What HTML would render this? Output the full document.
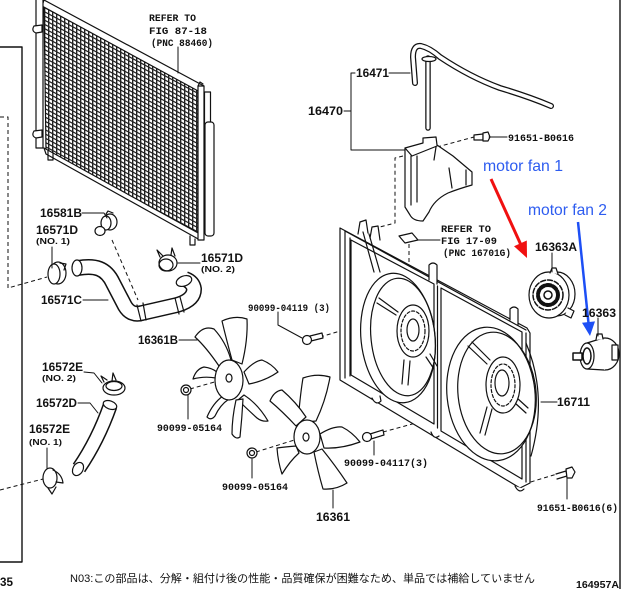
<!DOCTYPE html>
<html><head><meta charset="utf-8">
<style>
html,body{margin:0;padding:0;background:#fff;}
svg{display:block;}
.l{font-family:"Liberation Sans",sans-serif;font-weight:bold;font-size:12px;fill:#111;}
.m{font-family:"Liberation Mono",monospace;font-weight:bold;font-size:10px;fill:#111;}
.s{font-family:"Liberation Sans",sans-serif;font-weight:bold;font-size:8.5px;fill:#111;}
.b{font-family:"Liberation Sans",sans-serif;font-size:16px;fill:#2d5cf0;}
.j{font-family:"Liberation Sans","Noto Sans CJK JP",sans-serif;font-size:11px;fill:#111;}
</style></head><body>
<svg width="622" height="589" viewBox="0 0 622 589" xmlns="http://www.w3.org/2000/svg">
<defs>
<pattern id="g" width="4" height="4.2" patternUnits="userSpaceOnUse" patternTransform="skewY(28)">
<rect width="4" height="4.2" fill="#fff"/>
<path d="M0.7 0V4.2M0 0.7H4" stroke="#222" stroke-width="1.4"/>
</pattern>
</defs>

<g fill="none" stroke="#111" stroke-width="1.2" stroke-linejoin="round" stroke-linecap="round">
<!-- borders -->
<path d="M0,47 H22 V562 H0" stroke-width="1.4"/>
<path d="M620,0 V589" stroke-width="1.4"/>

<!-- ===== CONDENSER ===== -->
<path d="M44,6 L200,90 L200,236 L46,150 Z" fill="url(#g)"/>
<path d="M44,0 L204,86 L200,92 L42,6 Z" fill="#fff"/>
<path d="M44,148 L200,234 L200,240 L46,154 Z" fill="#fff"/>
<rect x="36" y="-2" width="7" height="150" fill="#fff"/>
<rect x="198" y="86" width="6" height="154" fill="#fff"/>
<rect x="204.5" y="92" width="6" height="32" fill="#fff"/>
<rect x="205" y="122" width="9" height="114" rx="3" fill="#fff"/>
<path d="M34,26 Q31,31 36,33 L42,32 L42,25 Z" fill="#fff"/>
<path d="M34,131 Q31,136 36,138 L42,137 L42,130 Z" fill="#fff"/>
<path d="M48,151 V160 H53 V153"/>
<path d="M190,236 V245 H195 V239"/>
<path d="M198,86 L200,82 L203,84"/>
<path d="M178,47 V73" stroke-width="1"/>

<!-- dashed -->
<g stroke-dasharray="4 3" stroke-width="1" stroke-linecap="butt">
<path d="M0,117 H8 V288 L47,277"/>
<path d="M112,240 L138,300"/>
<path d="M0,490 L43,479"/>
<path d="M190,389 L225,379"/>
<path d="M256,452 L304,437"/>
<path d="M320,337 L411,310"/>
<path d="M383,432 L511,397"/>
<path d="M524,484 L557,474"/>
<path d="M437,147 L474,137"/>
<path d="M403,156 L395,158 V223 L376,228"/>
<path d="M409,244 V264"/>
</g>

<!-- clips -->
<ellipse cx="110" cy="222" rx="7" ry="8" fill="#fff"/>
<ellipse cx="106" cy="223" rx="5" ry="7" fill="#fff"/>
<path d="M106,214 L108,211 L113,213" />
<ellipse cx="100" cy="231" rx="5" ry="4.5" fill="#fff"/>
<ellipse cx="58" cy="273" rx="8" ry="11" fill="#fff"/>
<ellipse cx="54" cy="274" rx="6" ry="10" fill="#fff"/>
<path d="M60,263 L66,264 L64,270"/>
<ellipse cx="168" cy="263" rx="9" ry="8" fill="#fff"/>
<ellipse cx="166" cy="265" rx="7" ry="6"/>
<path d="M160,257 L157,250 L163,256 M171,255 L172,248 L175,256"/>
<ellipse cx="114" cy="388" rx="11" ry="7" fill="#fff"/>
<ellipse cx="114" cy="386" rx="8" ry="4.5"/>
<path d="M104,382 L101,376 L107,380 M112,381 L113,373 L116,380"/>
<ellipse cx="50" cy="478" rx="7" ry="10" fill="#fff"/>
<path d="M53,470 Q62,474 63,483 L56,482 M48,488 L52,494 L56,487"/>

<!-- hose 16571C -->
<path d="M78,268 C95,265 106,268 113,283 L125,306 Q131,316 142,313 L177,305 Q194,300 194,289 Q193,282 185,279" stroke-width="16" stroke-linecap="butt"/>
<path d="M78,268 C95,265 106,268 113,283 L125,306 Q131,316 142,313 L177,305 Q194,300 194,289 Q193,282 185,279" stroke="#fff" stroke-width="13" stroke-linecap="butt"/>
<ellipse cx="77" cy="268" rx="5" ry="8" fill="#fff"/>
<ellipse cx="184" cy="281" rx="8" ry="5" fill="#fff" transform="rotate(-20 184 281)"/>
<path d="M137,305 L141,321 M143,303 L146,320 M175,298 L179,314 M180,297 L184,312"/>

<!-- hose 16572D -->
<path d="M110,406 Q98,440 79,468" stroke-width="15" stroke-linecap="butt"/>
<path d="M110,406 Q98,440 79,468" stroke="#fff" stroke-width="12" stroke-linecap="butt"/>
<ellipse cx="110" cy="405" rx="7" ry="4" fill="#fff" transform="rotate(20 110 405)"/>
<ellipse cx="78" cy="469" rx="5" ry="7" fill="#fff" transform="rotate(30 78 469)"/>

<!-- FAN 16361B -->
<g fill="#fff">
<path d="M219,366 Q206,347 195,337 Q203,325 214,329 Q226,342 231,360 Z"/>
<path d="M232,360 Q226,338 222,321 Q235,315 247,319 Q248,340 242,364 Z"/>
<path d="M244,372 Q254,361 262,360 Q272,364 278,372 Q265,381 249,384 Z"/>
<path d="M244,395 Q258,404 268,421 Q262,422 257,418 Q246,408 238,400 Z"/>
<path d="M236,400 Q232,418 232,434 Q236,440 240,437 Q242,418 243,399 Z"/>
<path d="M223,396 Q213,403 207,417 Q211,421 215,416 Q220,405 229,399 Z"/>
<path d="M216,378 Q204,376 193,379 Q196,369 204,367 Q212,368 217,372 Z"/>
<ellipse cx="229" cy="380" rx="14" ry="20"/>
<ellipse cx="229" cy="378" rx="3" ry="4"/>
</g>
<!-- FAN 16361 -->
<g fill="#fff">
<path d="M298,423 Q300,396 303,378 Q317,373 330,377 Q326,400 316,421 Z"/>
<path d="M296,426 Q282,411 270,401 Q274,391 282,390 Q296,402 306,417 Z"/>
<path d="M320,434 Q333,426 342,427 Q352,432 360,442 Q341,449 324,448 Z"/>
<path d="M314,452 Q318,472 323,489 Q336,490 347,483 Q335,465 322,449 Z"/>
<path d="M296,446 Q284,447 277,448 Q278,462 282,474 Q290,461 299,453 Z"/>
<ellipse cx="307" cy="437" rx="13" ry="17"/>
<ellipse cx="306" cy="437" rx="3" ry="4"/>
</g>
<!-- nuts/bolts -->
<circle cx="186" cy="390" r="5" fill="#fff"/><circle cx="186" cy="390" r="2.5"/>
<circle cx="252" cy="453" r="5" fill="#fff"/><circle cx="252" cy="453" r="2.5"/>
<path d="M310,336 L322,333 L323,338 L311,341" fill="#fff"/>
<circle cx="307" cy="340" r="4.5" fill="#fff"/>
<path d="M370,434 L383,430 L384,435 L371,439" fill="#fff"/>
<circle cx="367" cy="437" r="4.5" fill="#fff"/>
<path d="M556,474 L566,471 L567,476 L557,479" fill="#fff"/>
<path d="M566,469 L572,467 L575,472 L572,478 L567,478 Z" fill="#fff"/>
<path d="M474,135 L483,134 L483,140 L474,140 Z" fill="#fff"/>
<path d="M483,133 L488,132 L490,137 L488,141 L483,141 Z" fill="#fff"/>

<!-- TUBE 16471 -->
<path d="M415,83 L413,57 Q413,45 421,46 Q430,48 440,57 Q470,77 500,88 Q530,97 551,106" stroke-width="6"/>
<path d="M415,83 L413,57 Q413,45 421,46 Q430,48 440,57 Q470,77 500,88 Q530,97 551,106" stroke="#fff" stroke-width="3.5"/>
<path d="M428,58 V128" stroke-width="5.5"/>
<path d="M428,58 V128" stroke="#fff" stroke-width="3"/>
<ellipse cx="429" cy="59" rx="7" ry="2.5" fill="#fff"/>

<!-- RESERVOIR -->
<path d="M405,148 L423,143 L423,138 L436,137 L437,145 L453,156 L472,172 L472,185 Q458,189 448,193 Q434,200 429,212 L423,221 Q413,221 410,215 L405,207 Z" fill="#fff"/>
<path d="M411,156 V205 M417,156 V202 M405,148 L412,156 L437,146 M436,147 L434,160 M466,170 V185 M449,168 L452,188"/>

<!-- SHROUD -->
<path d="M340,228 L527,328 L530,333 V483 L520,488 L340,380 Z" fill="#fff"/>
<path d="M345,231 V378 M350,238 V376"/>
<path d="M345,231 L526,330"/>
<path d="M351,240 L434,284 V424 L351,375 Z"/>
<path d="M441,288 L522,332 V479 L441,431 Z"/>
<path d="M437.5,286 V428 M526,333 V482"/>
<path d="M358,234 L360,222 L366,220 L368,233" fill="#fff"/>
<path d="M370,238 L372,227 L378,226 L380,240" fill="#fff"/>
<path d="M363,232 L374,272 M369,234 L380,272"/>
<path d="M429,280 V265 Q433,261 437,265 V284" fill="#fff"/>
<path d="M510,320 V309 Q514,305 518,309 V325" fill="#fff"/>
<path d="M372,398 Q376,406 381,401 L380,396" fill="#fff"/>
<path d="M431,432 Q434,440 439,436" fill="#fff"/>
<path d="M515,486 Q519,494 524,489" fill="#fff"/>
<path d="M399,236 L412,233 L418,240 L405,243 Z" fill="#fff"/>
<!-- left ring -->
<ellipse cx="398" cy="338" rx="37" ry="65" transform="rotate(-6 398 338)" fill="#fff"/>
<ellipse cx="403" cy="337" rx="32" ry="59" transform="rotate(-6 403 337)"/>
<path d="M379,298 L398,312 M377,303 L396,315 M404,360 L402,384 M410,361 L408,385 M426,357 L434,369 M430,354 L437,366"/>
<ellipse cx="413" cy="331" rx="16" ry="26" fill="#fff"/>
<ellipse cx="413" cy="331" rx="12" ry="20" stroke-dasharray="3 2"/>
<ellipse cx="413" cy="330" rx="6" ry="11" fill="#fff"/>
<!-- right ring -->
<path d="M526,343 Q548,395 531,456"/>
<ellipse cx="491" cy="394" rx="44" ry="67" transform="rotate(-6 491 394)" fill="#fff"/>
<ellipse cx="497" cy="393" rx="39" ry="61" transform="rotate(-6 497 393)"/>
<path d="M472,342 L490,360 M468,346 L487,364 M487,407 L480,433 M492,409 L485,435 M517,398 L528,408 M515,403 L526,413"/>
<ellipse cx="503" cy="385" rx="17" ry="28" fill="#fff"/>
<ellipse cx="503" cy="385" rx="12" ry="21" stroke-dasharray="3 2"/>
<ellipse cx="502" cy="383" rx="7" ry="13" fill="#fff"/>

<!-- MOTOR 1 -->
<ellipse cx="557" cy="294" rx="18" ry="22" fill="#fff"/>
<ellipse cx="549" cy="295" rx="20" ry="23" fill="#fff"/>
<circle cx="548" cy="295" r="15" stroke-width="1.5" stroke-dasharray="5 2"/>
<circle cx="548" cy="295" r="10" stroke-width="4" stroke-dasharray="4 2.5"/>
<circle cx="548" cy="295" r="4" fill="#fff" stroke-width="1.5"/>
<path d="M550,273 L552,268 L556,268 L558,274" fill="#fff"/>
<path d="M568,308 L574,311 L571,318 L565,315" fill="#fff"/>
<!-- MOTOR 2 -->
<ellipse cx="605" cy="354" rx="14" ry="16" fill="#fff"/>
<path d="M587,343 L603,338 L605,370 L587,369 Z" fill="#fff" stroke="none"/>
<path d="M587,343 L603,338 M587,369 L604,370"/>
<ellipse cx="587" cy="356" rx="7" ry="13" fill="#fff"/>
<ellipse cx="587" cy="356" rx="4" ry="8" stroke-width="1.5"/>
<rect x="573" y="353" width="9" height="7" fill="#fff" stroke-width="1.5"/>
<rect x="612" y="345" width="6" height="15" fill="#fff"/>
<path d="M596,340 L597,334 L602,334 L603,339" fill="#fff"/>

<!-- LEADERS -->
<g stroke-width="1">
<path d="M82,213 H104 L107,218"/>
<path d="M52,247 V268"/>
<path d="M178,263 H200"/>
<path d="M83,300 H108"/>
<path d="M179,340 H197"/>
<path d="M84,372 L94,373 L102,383"/>
<path d="M78,403 H90 L98,413"/>
<path d="M47,448 V468"/>
<path d="M188,395 V419"/>
<path d="M252,459 V478"/>
<path d="M278,312 V325 L302,338"/>
<path d="M374,441 V455"/>
<path d="M333,490 V508"/>
<path d="M567,478 V499"/>
<path d="M541,402 H557"/>
<path d="M598,318 V336"/>
<path d="M552,253 V272"/>
<path d="M489,137 H507"/>
<path d="M389,73 H410"/>
<path d="M355,73 H351 V150 H405 M344,111 H351"/>
<path d="M418,240 H440"/>
</g>
</g>

<!-- arrows -->
<line x1="491" y1="179" x2="521" y2="245" stroke="#f01010" stroke-width="3"/>
<polygon points="527,258 514,246.3 526.8,240.5" fill="#f01010"/>
<line x1="578" y1="222" x2="588.5" y2="323" stroke="#1d4ff5" stroke-width="2.5"/>
<polygon points="590,336 582,322.8 595,321.4" fill="#1d4ff5"/>

<!-- TEXT -->
<text class="m" x="149" y="21" textLength="47" lengthAdjust="spacingAndGlyphs">REFER TO</text>
<text class="m" x="149" y="34" textLength="58" lengthAdjust="spacingAndGlyphs">FIG 87-18</text>
<text class="m" x="151" y="46" textLength="62" lengthAdjust="spacingAndGlyphs">(PNC 88460)</text>

<text class="l" x="40" y="217" textLength="42" lengthAdjust="spacingAndGlyphs">16581B</text>
<text class="l" x="36" y="234" textLength="42" lengthAdjust="spacingAndGlyphs">16571D</text>
<text class="s" x="36" y="244" textLength="34" lengthAdjust="spacingAndGlyphs">(NO. 1)</text>
<text class="l" x="201" y="262" textLength="42" lengthAdjust="spacingAndGlyphs">16571D</text>
<text class="s" x="201" y="272" textLength="34" lengthAdjust="spacingAndGlyphs">(NO. 2)</text>
<text class="l" x="41" y="304" textLength="41" lengthAdjust="spacingAndGlyphs">16571C</text>
<text class="l" x="138" y="344" textLength="40" lengthAdjust="spacingAndGlyphs">16361B</text>
<text class="l" x="42" y="371" textLength="41" lengthAdjust="spacingAndGlyphs">16572E</text>
<text class="s" x="42" y="381" textLength="34" lengthAdjust="spacingAndGlyphs">(NO. 2)</text>
<text class="l" x="36" y="407" textLength="41" lengthAdjust="spacingAndGlyphs">16572D</text>
<text class="l" x="29" y="433" textLength="41" lengthAdjust="spacingAndGlyphs">16572E</text>
<text class="s" x="29" y="445" textLength="33" lengthAdjust="spacingAndGlyphs">(NO. 1)</text>
<text class="m" x="157" y="431" textLength="65" lengthAdjust="spacingAndGlyphs">90099-05164</text>
<text class="m" x="222" y="490" textLength="66" lengthAdjust="spacingAndGlyphs">90099-05164</text>
<text class="m" x="248" y="311" textLength="82" lengthAdjust="spacingAndGlyphs">90099-04119 (3)</text>
<text class="m" x="344" y="466" textLength="84" lengthAdjust="spacingAndGlyphs">90099-04117(3)</text>
<text class="l" x="316" y="521" textLength="34" lengthAdjust="spacingAndGlyphs">16361</text>
<text class="m" x="537" y="511" textLength="81" lengthAdjust="spacingAndGlyphs">91651-B0616(6)</text>
<text class="l" x="557" y="406" textLength="33" lengthAdjust="spacingAndGlyphs">16711</text>
<text class="l" x="582" y="317" textLength="34" lengthAdjust="spacingAndGlyphs">16363</text>
<text class="l" x="535" y="251" textLength="42" lengthAdjust="spacingAndGlyphs">16363A</text>
<text class="m" x="508" y="141" textLength="66" lengthAdjust="spacingAndGlyphs">91651-B0616</text>
<text class="l" x="356" y="77" textLength="33" lengthAdjust="spacingAndGlyphs">16471</text>
<text class="l" x="308" y="115" textLength="35" lengthAdjust="spacingAndGlyphs">16470</text>
<text class="m" x="441" y="232" textLength="50" lengthAdjust="spacingAndGlyphs">REFER TO</text>
<text class="m" x="441" y="244" textLength="56" lengthAdjust="spacingAndGlyphs">FIG 17-09</text>
<text class="m" x="443" y="256" textLength="68" lengthAdjust="spacingAndGlyphs">(PNC 16701G)</text>

<text class="b" x="483" y="171" textLength="80" lengthAdjust="spacingAndGlyphs">motor fan 1</text>
<text class="b" x="528" y="215" textLength="79" lengthAdjust="spacingAndGlyphs">motor fan 2</text>

<text class="l" x="0" y="586" textLength="13" lengthAdjust="spacingAndGlyphs">35</text>
<text class="j" x="70" y="582" textLength="465" lengthAdjust="spacingAndGlyphs">N03:この部品は、分解・組付け後の性能・品質確保が困難なため、単品では補給していません</text>
<text class="l" x="576" y="588" style="font-size:10px" textLength="43" lengthAdjust="spacingAndGlyphs">164957A</text>
</svg>
</body></html>
